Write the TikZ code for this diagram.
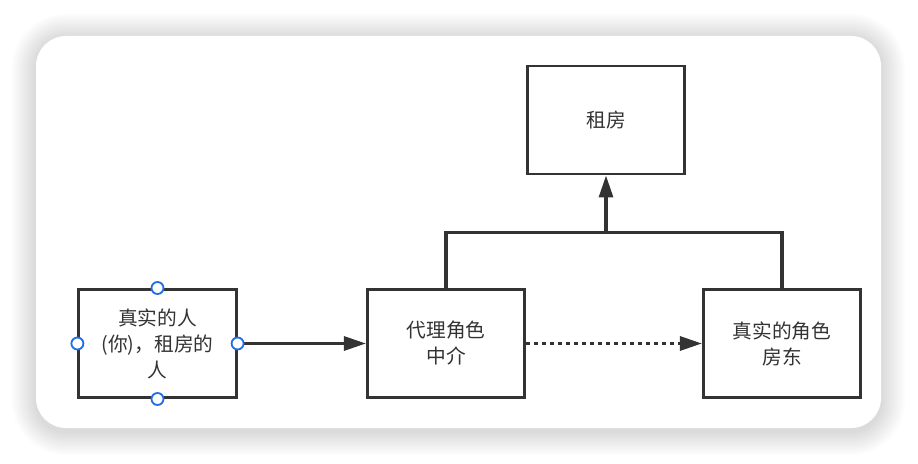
\documentclass[tikz,border=0pt]{standalone}
\usepackage{fontspec}
\newfontfamily\cjk{Noto Sans CJK SC}
\usetikzlibrary{arrows.meta, positioning}
\definecolor{ink}{HTML}{333333}
\definecolor{handleblue}{HTML}{1F6FE5}
\tikzset{
  box/.style    = {draw=ink, line width=2.1pt, fill=white, minimum width=3.93cm,
                   minimum height=2.7cm, align=center, text=ink,
                   font=\cjk\fontsize{14}{18.5}\selectfont},
  wire/.style   = {draw=ink, line width=2.2pt},
  link/.style   = {wire, -{Triangle[length=5.5mm, width=3.5mm]}},
  dotlink/.style = {link, dash pattern=on 0.1cm off 0.1cm},
  handle/.style = {circle, draw=handleblue, fill=white, line width=1.3pt,
                   inner sep=0pt, minimum size=0.3cm},
}

\begin{document}
\begin{tikzpicture}[x=0.025cm, y=-0.025cm]
  \useasboundingbox (0,0) rectangle (918,464);
  % card with soft shadow
  \foreach \s in {1,...,12} {
    \pgfmathsetlengthmacro{\rc}{0.75cm+0.05cm*\s}
    \fill[black, opacity=0.013, rounded corners=\rc]
      (36-2*\s, 38-2*\s) rectangle (881+2*\s, 431+2*\s);
  }
  \fill[white, rounded corners=0.75cm] (36,36) rectangle (881,428);

  \node[box] (rent)   at (606,120)   {租房};
  \node[box] (person) at (157.5,343.5) {真实的人\\(你)，租房的\\人};
  \node[box] (agent)  at (446,343.5) {代理角色\\中介};
  \node[box] (owner)  at (782,343.5) {真实的角色\\房东};
  \coordinate (join) at (606,232.5);

  \draw[link] (person) -- (agent);
  \draw[dotlink] (agent) -- (owner);
  \draw[wire] (agent.north) -- (agent.north |- join) -- (owner.north |- join) -- (owner.north);
  \draw[link] (join) -- (rent);

  \foreach \a in {north,south,east,west}
    \node[handle] (h-\a) at (person.\a) {};
\end{tikzpicture}
\end{document}
